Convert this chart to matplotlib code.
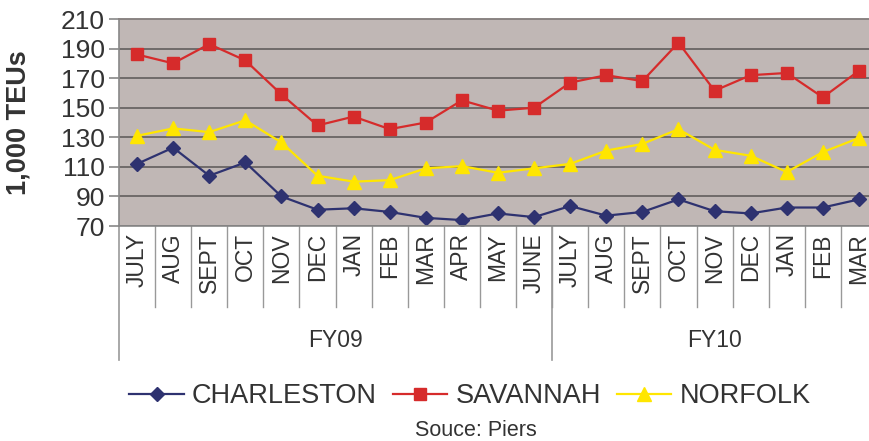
import matplotlib.pyplot as plt
import matplotlib.transforms as mtransforms

plt.rcParams['font.family'] = ['Liberation Sans', 'DejaVu Sans']

# =========================
# DATA
# =========================
months = ["JULY", "AUG", "SEPT", "OCT", "NOV", "DEC", "JAN", "FEB", "MAR", "APR", "MAY", "JUNE",
          "JULY", "AUG", "SEPT", "OCT", "NOV", "DEC", "JAN", "FEB", "MAR"]
groups = ["FY09", "FY10"]
group_sizes = [12, 9]

charleston = [112, 123, 104, 113, 90, 81, 82, 79.5, 75.5, 74, 78.5, 76,
              83.5, 77, 79.5, 88, 80, 78.5, 82.5, 82.5, 88]
savannah = [186, 180, 193, 182, 159, 138, 144, 135.5, 140, 155, 148, 150,
            167, 172, 168, 194, 161.5, 172, 173.5, 157, 175]
norfolk = [131, 136, 133.5, 141.5, 126.5, 104, 100, 101, 109, 110.5, 106, 109,
           112, 121, 125.5, 135.5, 121.5, 117.5, 106.5, 120, 129.5]

text_col = "#333333"

# =========================
# FIGURE
# =========================
fig = plt.figure(figsize=(8.69, 4.41), dpi=100)
# plot area runs slightly past the right edge of the picture (cropped original)
ax = fig.add_axes([119 / 869, 1 - 226 / 441, 758 / 869, 207 / 441])
ax.set_facecolor("#C0B7B5")

x = list(range(len(months)))
ax.plot(x, charleston, color="#2E3270", lw=1.6, marker="D", ms=7.5, label="CHARLESTON")
ax.plot(x, savannah, color="#D62B2B", lw=1.6, marker="s", ms=8.5, label="SAVANNAH")
ax.plot(x, norfolk, color="#FFE600", lw=1.6, marker="^", ms=10.5, label="NORFOLK")

ax.set_xlim(-0.5, len(months) - 0.5)
ax.set_ylim(70, 210)
ax.set_yticks(range(70, 211, 20))
ax.yaxis.grid(True, color="#6F6A69", lw=1.4)
ax.set_axisbelow(True)
ax.tick_params(axis="y", labelsize=19, labelcolor=text_col, color="#888888",
               length=7, width=1.2, pad=3)
ax.set_xticks([])
for s in ["top", "right"]:
    ax.spines[s].set_color("#8A8483")
    ax.spines[s].set_linewidth(1.4)
ax.spines["left"].set_color("#888888")
ax.spines["bottom"].set_color("#888888")
ax.spines["left"].set_linewidth(1.2)
ax.spines["bottom"].set_linewidth(1.2)

ax.set_ylabel("1,000 TEUs", fontsize=19.5, fontweight="bold", color=text_col)
ax.yaxis.set_label_coords(-0.115, 0.5)

# =========================
# MULTI-LEVEL CATEGORY AXIS
# =========================
trans = mtransforms.blended_transform_factory(ax.transData, ax.transAxes)
for i, m in enumerate(months):
    ax.text(i, -0.035, m, rotation=90, ha="center", va="top", fontsize=16.5,
            color=text_col, transform=trans)
for i in range(1, len(months)):
    ax.plot([i - 0.5, i - 0.5], [0, -0.39], color="#999999", lw=1,
            transform=trans, clip_on=False)

start = 0
bounds = [-0.5]
for g, n in zip(groups, group_sizes):
    bounds.append(start + n - 0.5)
    start += n
for b in bounds:
    ax.plot([b, b], [0, -0.645], color="#999999", lw=1.2, transform=trans, clip_on=False)
for k, g in enumerate(groups):
    ax.text((bounds[k] + bounds[k + 1]) / 2, -0.555, g, ha="center", va="center",
            fontsize=16.5, color=text_col, transform=trans)

# =========================
# LEGEND + SOURCE
# =========================
handles, labels = ax.get_legend_handles_labels()
leg = fig.legend(handles, labels, loc="center", bbox_to_anchor=(470 / 869, 1 - 396 / 441),
                 ncol=3, frameon=False, fontsize=19.5, handlelength=2.0,
                 handletextpad=0.3, columnspacing=0.6, borderaxespad=0)
for t in leg.get_texts():
    t.set_color(text_col)

fig.text(476 / 869, 1 - 430 / 441, "Souce: Piers", ha="center", va="center",
         fontsize=15.5, color=text_col)

plt.savefig("out.png", dpi=100)
